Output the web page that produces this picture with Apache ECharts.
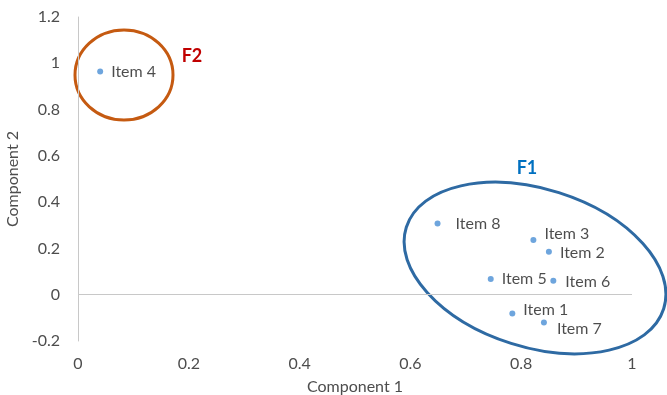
<!DOCTYPE html>
<html>
<head>
<meta charset="utf-8">
<script src="https://cdn.jsdelivr.net/npm/echarts@6/dist/echarts.min.js"></script>
<style>html,body{margin:0;padding:0;background:#fff}#c{width:667px;height:395px}</style>
</head>
<body>
<div id="c"></div>
<script>
const itemNames = ['Item 1','Item 2','Item 3','Item 4','Item 5','Item 6','Item 7','Item 8'];
const comp1 = [0.784, 0.850, 0.822, 0.040, 0.745, 0.858, 0.841, 0.649];
const comp2 = [-0.081, 0.186, 0.236, 0.964, 0.068, 0.060, -0.120, 0.308];
const xTicks = [0, 0.2, 0.4, 0.6, 0.8, 1];
const yTicks = [-0.2, 0, 0.2, 0.4, 0.6, 0.8, 1, 1.2];
const labelOffsets = [[0,-4],[0,1],[0,-6],[0,0],[0,0],[1,1],[2,6],[7,0]];

const font = 'Lato, "Liberation Sans", sans-serif';
const chart = echarts.init(document.getElementById('c'), null, {renderer:'canvas'});
const data = itemNames.map((n,i)=>({
  name:n, value:[comp1[i], comp2[i]],
  label:{offset:labelOffsets[i]}
}));
chart.setOption({
  animation:false,
  grid:{left:78, right:35, top:17, bottom:54, containLabel:false, outerBoundsMode:'none'},
  xAxis:{
    type:'value', min:xTicks[0], max:xTicks[xTicks.length-1], interval:0.2,
    name:'Component 1', nameLocation:'middle', nameGap:38,
    nameTextStyle:{fontFamily:font, fontSize:16, color:'#4d4d4d'},
    axisLine:{show:false, onZero:false}, axisTick:{show:false}, splitLine:{show:false},
    axisLabel:{fontFamily:font, fontSize:16, color:'#4d4d4d', margin:15,
      formatter:v=>String(+v.toFixed(1))}
  },
  yAxis:{
    type:'value', min:yTicks[0], max:yTicks[yTicks.length-1], interval:0.2,
    name:'Component 2', nameLocation:'middle', nameGap:49, nameRotate:90,
    nameTextStyle:{fontFamily:font, fontSize:16, color:'#4d4d4d'},
    axisLine:{show:true, onZero:false, lineStyle:{color:'#c8c8c8', width:1}},
    axisTick:{show:false}, splitLine:{show:false},
    axisLabel:{fontFamily:font, fontSize:16, color:'#4d4d4d', margin:18,
      formatter:v=>String(+v.toFixed(1))}
  },
  series:[{
    type:'scatter', symbolSize:6, itemStyle:{color:'#4a8fd4'},
    data:data,
    label:{show:true, position:'right', distance:8, formatter:'{b}',
      fontFamily:font, fontSize:16, color:'#1f1f1f'},
    markLine:{silent:true, symbol:'none', label:{show:false},
      lineStyle:{color:'#c8c8c8', width:1, type:'solid'},
      data:[{yAxis:0}]}
  }],
  graphic:[
    {type:'ellipse', shape:{cx:0, cy:0, rx:135, ry:79}, x:535, y:268, rotation:-0.307,
      style:{fill:'none', stroke:'#2e6aa3', lineWidth:3}},
    {type:'ellipse', shape:{cx:0, cy:0, rx:49, ry:45}, x:124, y:75,
      style:{fill:'none', stroke:'#c55a11', lineWidth:3}},
    {type:'text', x:527, y:168, style:{text:'F1', fill:'#0070c0', font:'bold 18px '+font, align:'center', verticalAlign:'middle'}},
    {type:'text', x:192, y:56, style:{text:'F2', fill:'#c00000', font:'bold 18px '+font, align:'center', verticalAlign:'middle'}}
  ]
});
</script>
</body>
</html>
